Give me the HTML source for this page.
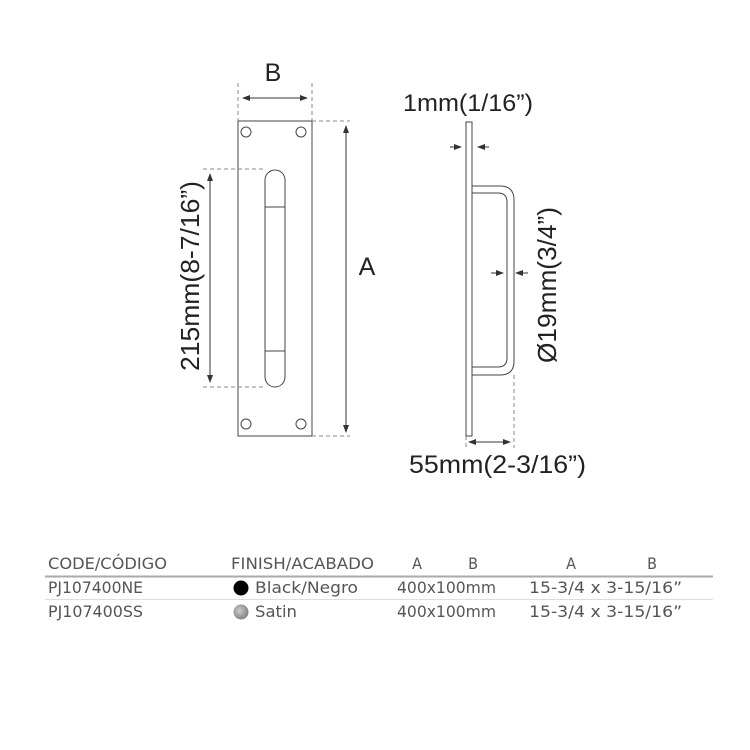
<!DOCTYPE html>
<html><head><meta charset="utf-8"><style>
html,body{margin:0;padding:0;background:#fff;width:750px;height:750px;overflow:hidden}
svg{display:block}
.t{font-family:"Liberation Sans",sans-serif;fill:#222}
.tb{font-family:"DejaVu Sans Condensed","Liberation Sans",sans-serif;fill:#555;font-size:16px}
</style></head><body>
<svg width="750" height="750" viewBox="0 0 750 750" xmlns="http://www.w3.org/2000/svg">
<defs>
<marker id="ah" markerWidth="8" markerHeight="6" refX="7" refY="3" orient="auto-start-reverse" markerUnits="userSpaceOnUse">
<path d="M0,0 L8,3 L0,6 z" fill="#333"/></marker>
<radialGradient id="sat" cx="0.4" cy="0.4" r="0.7"><stop offset="0" stop-color="#ccc"/><stop offset="1" stop-color="#777"/></radialGradient>
</defs>
<g fill="none" stroke="#444" stroke-width="1">
<rect x="238" y="121" width="74" height="315"/>
<circle cx="246" cy="132" r="5"/><circle cx="301" cy="132" r="5"/>
<circle cx="246" cy="424" r="5"/><circle cx="301" cy="424" r="5"/>
<rect x="265" y="170" width="20" height="217" rx="10" ry="10"/>
<line x1="265" y1="207" x2="285" y2="207"/>
<line x1="265" y1="351" x2="285" y2="351"/>
</g>
<g fill="none" stroke="#888" stroke-width="1" stroke-dasharray="4,3">
<line x1="238" y1="83" x2="238" y2="121"/><line x1="312" y1="83" x2="312" y2="121"/>
<line x1="312" y1="121" x2="350" y2="121"/><line x1="312" y1="436" x2="350" y2="436"/>
<line x1="203" y1="169" x2="265" y2="169"/><line x1="203" y1="387" x2="265" y2="387"/>
<line x1="466" y1="436" x2="466" y2="448"/><line x1="514" y1="375" x2="514" y2="448"/>
</g>
<g stroke="#333" stroke-width="1">
<line x1="243" y1="98" x2="307" y2="98" marker-start="url(#ah)" marker-end="url(#ah)"/>
<line x1="346" y1="126" x2="346" y2="432" marker-start="url(#ah)" marker-end="url(#ah)"/>
<line x1="210" y1="174" x2="210" y2="382" marker-start="url(#ah)" marker-end="url(#ah)"/>
<line x1="450" y1="147" x2="461" y2="147" marker-end="url(#ah)"/>
<line x1="489" y1="147" x2="478" y2="147" marker-end="url(#ah)"/>
<line x1="491" y1="273" x2="503" y2="273" marker-end="url(#ah)"/>
<line x1="528" y1="273" x2="516" y2="273" marker-end="url(#ah)"/>
<line x1="469" y1="442" x2="510" y2="442" marker-start="url(#ah)" marker-end="url(#ah)"/>
</g>
<g fill="none" stroke="#444" stroke-width="1">
<rect x="466" y="122" width="6" height="314"/>
<path d="M472,186 H500 Q514,186 514,200 V361 Q514,375 500,375 H472"/>
<path d="M472,193 H498 Q507,193 507,202 V358 Q507,367 498,367 H472"/>
</g>
<g class="t">
<text x="273" y="81" font-size="25" text-anchor="middle">B</text>
<text x="367" y="275" font-size="25" text-anchor="middle">A</text>
<text transform="translate(199,276) rotate(-90)" font-size="26" text-anchor="middle" textLength="190" lengthAdjust="spacingAndGlyphs">215mm(8-7/16”)</text>
<text x="403" y="111" font-size="24" textLength="130" lengthAdjust="spacingAndGlyphs">1mm(1/16”)</text>
<text transform="translate(556,285) rotate(-90)" font-size="26" text-anchor="middle" textLength="156" lengthAdjust="spacingAndGlyphs">Ø19mm(3/4”)</text>
<text x="409" y="473" font-size="25" textLength="177" lengthAdjust="spacingAndGlyphs">55mm(2-3/16”)</text>
</g>
<line x1="45" y1="576.5" x2="713" y2="576.5" stroke="#aaa" stroke-width="2"/>
<line x1="45" y1="599.5" x2="713" y2="599.5" stroke="#ddd" stroke-width="1"/>
<g class="tb">
<text x="48" y="569" textLength="119" lengthAdjust="spacingAndGlyphs">CODE/CÓDIGO</text>
<text x="231" y="569" textLength="143" lengthAdjust="spacingAndGlyphs">FINISH/ACABADO</text>
<text x="417" y="569" text-anchor="middle">A</text>
<text x="473" y="569" text-anchor="middle">B</text>
<text x="571" y="569" text-anchor="middle">A</text>
<text x="652" y="569" text-anchor="middle">B</text>
<text x="48" y="593" textLength="95" lengthAdjust="spacingAndGlyphs">PJ107400NE</text>
<text x="48" y="617" textLength="95" lengthAdjust="spacingAndGlyphs">PJ107400SS</text>
<text x="255" y="593" textLength="103" lengthAdjust="spacingAndGlyphs">Black/Negro</text>
<text x="255" y="617" textLength="42" lengthAdjust="spacingAndGlyphs">Satin</text>
<text x="397" y="593" textLength="99" lengthAdjust="spacingAndGlyphs">400x100mm</text>
<text x="397" y="617" textLength="99" lengthAdjust="spacingAndGlyphs">400x100mm</text>
<text x="529" y="593" textLength="153" lengthAdjust="spacingAndGlyphs">15-3/4 x 3-15/16”</text>
<text x="529" y="617" textLength="153" lengthAdjust="spacingAndGlyphs">15-3/4 x 3-15/16”</text>
</g>
<circle cx="241" cy="588" r="7.5" fill="#000"/>
<circle cx="241" cy="612" r="7.5" fill="url(#sat)"/>
</svg>
</body></html>
